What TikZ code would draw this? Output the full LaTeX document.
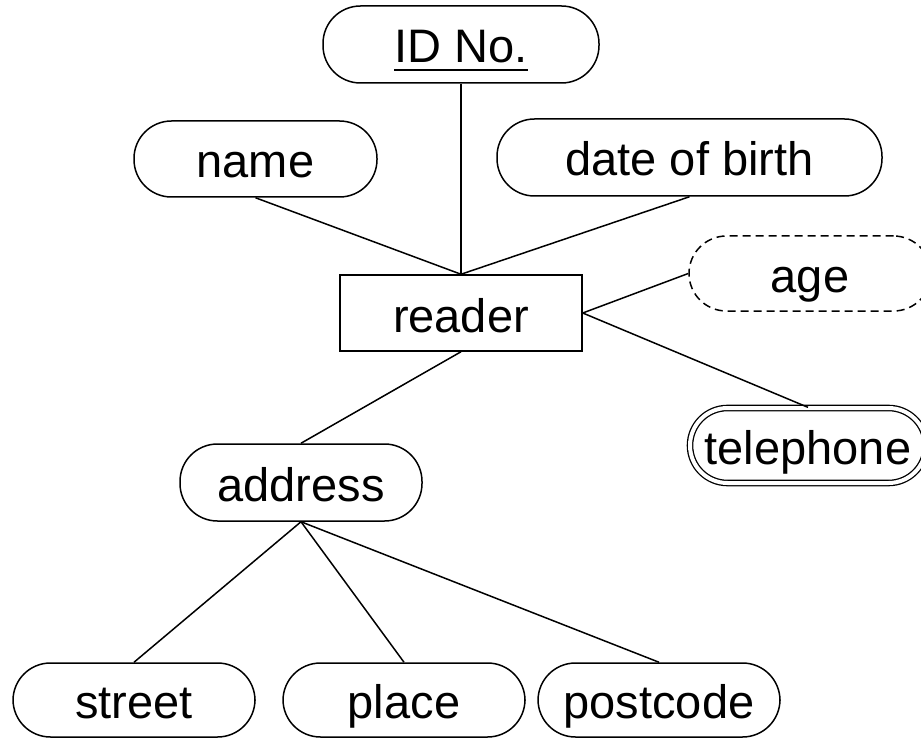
\documentclass[tikz,border=0pt]{standalone}
\usepackage{fontspec}
\setmainfont{Liberation Sans}
\usetikzlibrary{positioning}

% underlined key attribute
\newcommand{\keyattr}[1]{\setbox0\hbox{#1}\rlap{\rule[-8.5pt]{\wd0}{2.5pt}}\box0}

\tikzset{
  er/.style={draw, line width=1.5pt, font=\fontsize{47pt}{56pt}\selectfont,
             inner sep=0pt, text height=37pt, text depth=0pt},
  attr/.style={er, rectangle, rounded corners=37.5pt, minimum height=76pt},
  entity/.style={er, rectangle, minimum height=76pt, text height=39pt},
  derived/.style={attr, dash pattern=on 8pt off 5pt},
  multi/.style={attr, double, double distance=4pt, line width=1.3pt, minimum height=75pt},
  link/.style={line width=1.5pt},
}

\begin{document}
\begin{tikzpicture}[x=1pt, y=-1pt]
  \useasboundingbox (0,0) rectangle (921,738);
  \clip (0,0) rectangle (921,738);

  % entity
  \node[entity, minimum width=242pt] (reader) at (461,313) {reader};

  % attributes
  \node[attr, minimum width=276pt, minimum height=77pt] (idno) at (461,44.5) {\keyattr{ID No.}};
  \node[attr, minimum width=243pt] (name) at (255.5,159) {name};
  \node[attr, minimum width=385pt, minimum height=77pt] (dob) at (689.5,157.5) {date of birth};
  \node[derived, minimum width=242pt, minimum height=75pt] (age) at (810,273.5) {age};
  \node[multi, minimum width=236pt] (tel) at (808,445.5) {telephone};
  \node[attr, minimum width=242pt, minimum height=77pt] (address) at (301,482.5) {address};
  \node[attr, minimum width=242pt, minimum height=74pt] (street) at (134,700) {street};
  \node[attr, minimum width=242pt, minimum height=74pt] (place) at (404,700) {place};
  \node[attr, minimum width=242pt, minimum height=74pt] (postcode) at (659,700) {postcode};

  % connectors
  \draw[link] (idno.south) -- (reader.north);
  \draw[link] (name.south) -- (reader.north);
  \draw[link] (dob.south) -- (reader.north);
  \draw[link] (reader.east) -- (age.west);
  \draw[link] (reader.east) -- (tel.north);
  \draw[link] (reader.south) -- (address.north);
  \draw[link] (address.south) -- (street.north);
  \draw[link] (address.south) -- (place.north);
  \draw[link] (address.south) -- (postcode.north);
\end{tikzpicture}
\end{document}
